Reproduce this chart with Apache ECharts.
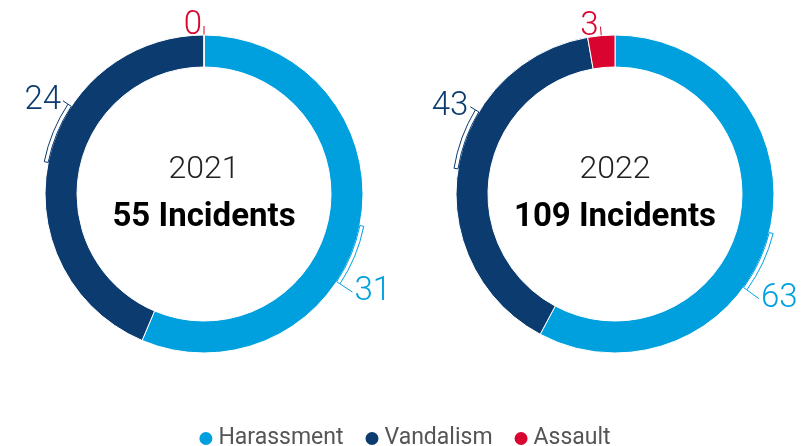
<!DOCTYPE html>
<html>
<head>
<meta charset="utf-8">
<script src="https://cdn.jsdelivr.net/npm/echarts@6/dist/echarts.min.js"></script>
<style>html,body{margin:0;padding:0;background:#fff}#c{width:808px;height:446px}</style>
</head>
<body>
<div id="c"></div>
<script>
const categories = ['Harassment', 'Vandalism', 'Assault'];
const colors = ['#00a0df', '#0b3b6f', '#d9042f'];
const years = ['2021', '2022'];
const values2021 = [31, 24, 0];
const values2022 = [63, 43, 3];
const totals = ['55 Incidents', '109 Incidents'];

const chart = echarts.init(document.getElementById('c'));
const centers = [[204, 194], [615, 194]];
const RING = [127, 159];
const BRACKET = [159, 163];
const BRACKET_DEG = 22;
const LINE_LEN = [15, 6];
const LABEL_FONT = { fontFamily: 'Roboto', fontSize: 33, fontWeight: 300 };

function mainSeries(vals, idx) {
  return {
    type: 'pie', name: years[idx], center: centers[idx], radius: RING,
    startAngle: 90, clockwise: true, avoidLabelOverlap: false,
    itemStyle: { borderColor: '#fff', borderWidth: 1 },
    label: Object.assign({ show: false, position: 'outside', formatter: '{c}', distanceToLabelLine: 2 }, LABEL_FONT),
    labelLine: { show: false, length: 9, length2: 0, lineStyle: { width: 1 } },
    emphasis: { disabled: true },
    data: categories.map((c, i) => ({
      name: c, value: vals[i],
      itemStyle: { color: colors[i] },
      label: { show: i === 2, color: colors[i] },
      labelLine: { show: i === 2, lineStyle: { color: colors[i] } }
    }))
  };
}

// thin bracket outlines along the outer edge, starting at each slice's middle,
// with the slice value written at the bracket's end
function bracketSeries(vals, idx) {
  const T = vals.reduce((a, b) => a + b, 0);
  const b = T * BRACKET_DEG / 360;
  const data = [];
  const gap = v => ({ value: v, name: 'gap', itemStyle: { color: 'rgba(0,0,0,0)', borderWidth: 0 }, label: { show: false }, labelLine: { show: false } });
  let cum = 0;
  [0, 1].forEach(i => {
    const mid = cum + vals[i] / 2;
    const used = data.reduce((a, d) => a + d.value, 0);
    data.push(gap(mid - used));
    data.push({ value: b, name: 'br' + i, itemStyle: { color: 'rgba(0,0,0,0)', borderColor: colors[i], borderWidth: 1 }, label: { show: false }, labelLine: { show: false } });
    data.push({ value: 0, name: categories[i],
      itemStyle: { color: 'rgba(0,0,0,0)', borderWidth: 0 },
      label: { show: true, color: colors[i], formatter: String(vals[i]) },
      labelLine: { show: true, length: LINE_LEN[i], lineStyle: { color: colors[i] } } });
    cum += vals[i];
  });
  const used = data.reduce((a, d) => a + d.value, 0);
  data.push(gap(T - used));
  return {
    type: 'pie', name: years[idx] + '-labels', center: centers[idx], radius: BRACKET,
    startAngle: 90, clockwise: true, avoidLabelOverlap: false, silent: true,
    legendHoverLink: false,
    label: Object.assign({ position: 'outside', distanceToLabelLine: 2 }, LABEL_FONT),
    labelLine: { length: 6, length2: 0, lineStyle: { width: 1 } },
    emphasis: { disabled: true },
    data: data
  };
}

const graphics = [];
[0, 1].forEach(i => {
  graphics.push({ type: 'text', x: centers[i][0], y: 170, style: { text: years[i], fontFamily: 'Roboto', fontSize: 32, fontWeight: 300, fill: '#222', align: 'center', verticalAlign: 'middle' } });
  graphics.push({ type: 'text', x: centers[i][0], y: 218, style: { text: totals[i], fontFamily: 'Roboto', fontSize: 33, fontWeight: 'bold', fill: '#000', align: 'center', verticalAlign: 'middle' } });
});
chart.setOption({
  animation: false,
  legend: {
    data: categories, top: 422, left: 'center', icon: 'circle',
    itemWidth: 15, itemHeight: 15, itemGap: 20,
    textStyle: { fontFamily: 'Roboto', fontSize: 23, color: '#555' }
  },
  graphic: graphics,
  series: [mainSeries(values2021, 0), mainSeries(values2022, 1), bracketSeries(values2021, 0), bracketSeries(values2022, 1)]
});
</script>
</body>
</html>
